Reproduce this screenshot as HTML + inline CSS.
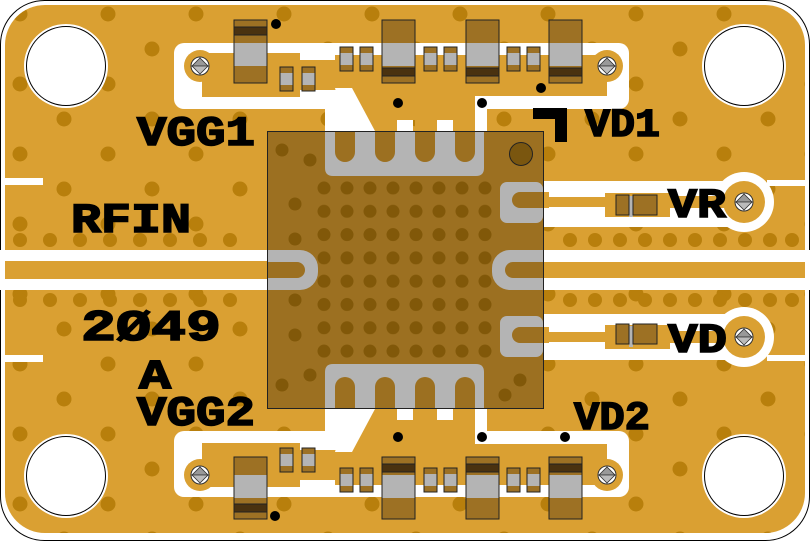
<!DOCTYPE html>
<html><head><meta charset="utf-8"><style>
html,body{margin:0;padding:0;background:#fff;}
svg{display:block;}
text{font-family:"Liberation Mono","DejaVu Sans Mono",monospace;font-weight:bold;fill:#000;stroke:#000;stroke-width:1.6px;}
</style></head><body>
<svg width="810" height="542" viewBox="0 0 810 542" xmlns="http://www.w3.org/2000/svg">
<defs>
<pattern id="vias" x="0" y="0" width="88" height="70" patternUnits="userSpaceOnUse">
<circle cx="20" cy="14" r="7.5" fill="#B87F0C"/>
<circle cx="64" cy="49" r="7.5" fill="#B87F0C"/>
</pattern>
<pattern id="cvias" x="312.5" y="176.5" width="23" height="23.3" patternUnits="userSpaceOnUse">
<circle cx="11.5" cy="11.5" r="6.5" fill="#815809"/>
</pattern>
<g id="screw">
<circle r="9" fill="#fff" stroke="#333" stroke-width="1"/>
<path d="M-8,0 L8,0 L0,-8 Z" fill="#999" stroke="#333" stroke-width="0.8"/>
<path d="M-8,0 L8,0 L0,8 Z" fill="#bbb" stroke="#333" stroke-width="0.8" transform="scale(-1,1)"/>
</g>
</defs>
<rect x="0.5" y="0.5" width="809" height="540" rx="44" fill="#fff" stroke="#000" stroke-width="1"/>
<rect x="5" y="5" width="800" height="528" rx="40" fill="#DAA032"/>
<rect x="5" y="5" width="800" height="528" rx="40" fill="url(#vias)"/>
<g fill="#B87F0C">
<circle cx="20" cy="240" r="7"/><circle cx="50" cy="240" r="7"/><circle cx="80" cy="240" r="7"/><circle cx="110" cy="240" r="7"/><circle cx="140" cy="240" r="7"/><circle cx="170" cy="240" r="7"/><circle cx="200" cy="240" r="7"/><circle cx="230" cy="240" r="7"/>
<circle cx="20" cy="300" r="7"/><circle cx="50" cy="300" r="7"/><circle cx="80" cy="300" r="7"/><circle cx="110" cy="300" r="7"/><circle cx="140" cy="300" r="7"/><circle cx="170" cy="300" r="7"/><circle cx="200" cy="300" r="7"/><circle cx="230" cy="300" r="7"/>
<circle cx="570" cy="240" r="7"/><circle cx="595" cy="240" r="7"/><circle cx="620" cy="240" r="7"/><circle cx="645" cy="240" r="7"/><circle cx="670" cy="240" r="7"/><circle cx="695" cy="240" r="7"/><circle cx="720" cy="240" r="7"/><circle cx="745" cy="240" r="7"/><circle cx="770" cy="240" r="7"/><circle cx="792" cy="240" r="7"/>
<circle cx="570" cy="300" r="7"/><circle cx="595" cy="300" r="7"/><circle cx="620" cy="300" r="7"/><circle cx="645" cy="300" r="7"/><circle cx="670" cy="300" r="7"/><circle cx="695" cy="300" r="7"/><circle cx="720" cy="300" r="7"/><circle cx="745" cy="300" r="7"/><circle cx="770" cy="300" r="7"/><circle cx="792" cy="300" r="7"/>
</g>

<g fill="#fff" stroke="#000" stroke-width="1">
<circle cx="66" cy="66" r="42" stroke="none"/><circle cx="66" cy="66" r="39.5"/>
<circle cx="744" cy="66" r="42" stroke="none"/><circle cx="744" cy="66" r="39.5"/>
<circle cx="66" cy="476" r="42" stroke="none"/><circle cx="66" cy="476" r="39.5"/>
<circle cx="744" cy="476" r="42" stroke="none"/><circle cx="744" cy="476" r="39.5"/>
</g>

<g fill="#fff">
<rect x="0" y="250" width="270" height="40"/>
<rect x="540" y="250" width="270" height="40"/>
<rect x="5" y="178" width="38" height="7"/>
<rect x="5" y="355" width="38" height="7"/>
<rect x="767" y="180" width="38" height="6"/>
<rect x="767" y="355" width="38" height="6"/>
<rect x="540" y="181" width="215" height="46"/>
<circle cx="744" cy="202" r="30"/>
<rect x="540" y="314" width="215" height="46"/>
<circle cx="744" cy="337" r="30"/>
<rect x="174" y="43" width="455" height="66" rx="10"/>
<rect x="325" y="100" width="23" height="31"/>
<rect x="474" y="95" width="13" height="36"/>
<rect x="174" y="431" width="455" height="66" rx="10"/>
<rect x="325" y="409" width="23" height="31"/>
<rect x="474" y="409" width="13" height="36"/>
</g>

<g fill="#DAA032">
<rect x="5" y="261" width="265" height="18"/>
<rect x="540" y="262" width="265" height="16"/>
<rect x="540" y="197" width="70" height="10"/>
<rect x="605" y="193" width="65" height="24"/>
<rect x="665" y="196" width="75" height="12"/>
<circle cx="744" cy="202" r="21"/>
<rect x="540" y="332" width="70" height="10"/>
<rect x="605" y="325" width="65" height="24"/>
<rect x="665" y="331" width="75" height="12"/>
<circle cx="744" cy="337" r="21"/>
<path d="M202,53 L300,53 L300,60 L335,60 L335,55 L607,55 L607,96 L340,96 L340,90 L300,90 L300,97 L202,97 Z"/>
<rect x="352" y="96" width="123" height="24"/>
<circle cx="200" cy="66" r="16"/>
<circle cx="607" cy="66" r="16"/>
<path d="M202,487 L300,487 L300,480 L335,480 L335,485 L607,485 L607,444 L340,444 L340,450 L300,450 L300,443 L202,443 Z"/>
<rect x="352" y="420" width="123" height="24"/>
<circle cx="200" cy="475" r="16"/>
<circle cx="607" cy="475" r="16"/>
</g>
<g fill="#fff">
<path d="M335,88 L352,88 L375,131 L347,131 Z"/>
<path d="M335,452 L352,452 L375,409 L347,409 Z"/>
</g>
<g fill="#DAA032">
<rect x="375" y="110" width="20" height="21"/>
<rect x="415" y="110" width="20" height="21"/><rect x="455" y="110" width="20" height="21"/>
<rect x="375" y="409" width="20" height="21"/>
<rect x="415" y="409" width="20" height="21"/><rect x="455" y="409" width="20" height="21"/>
</g>
<g fill="#fff">
<rect x="397" y="120" width="16" height="11"/><rect x="437" y="120" width="16" height="11"/>
<rect x="397" y="409" width="16" height="11"/><rect x="437" y="409" width="16" height="11"/>
</g>

<rect x="267" y="131" width="276" height="277" fill="#9C7021"/>
<rect x="313" y="177" width="184" height="186" fill="url(#cvias)"/>
<g fill="#815809">
<circle cx="295" cy="204" r="6.5"/><circle cx="295" cy="239" r="6.5"/>
<circle cx="295" cy="300" r="6.5"/><circle cx="295" cy="335" r="6.5"/>
<circle cx="282" cy="150" r="6.5"/><circle cx="310" cy="160" r="6.5"/>
<circle cx="282" cy="385" r="6.5"/><circle cx="310" cy="375" r="6.5"/>
<circle cx="520" cy="380" r="6.5"/><circle cx="505" cy="395" r="6.5"/>
</g>
<g fill="#B4B4B4">
<path d="M325,131 L484,131 L484,168 Q484,176 476,176 L333,176 Q325,176 325,168 Z"/>
<path d="M325,408 L484,408 L484,372 Q484,364 476,364 L333,364 Q325,364 325,372 Z"/>
<rect x="268" y="250" width="50" height="40" rx="18"/>
<rect x="268" y="250" width="20" height="40"/>
<rect x="500" y="182" width="43" height="41" rx="7"/>
<rect x="492" y="250" width="51" height="40" rx="18"/>
<rect x="520" y="250" width="23" height="40"/>
<rect x="500" y="316" width="43" height="41" rx="7"/>
</g>
<g fill="#9C7021">
<path d="M335,131 h20 v21 a10,10 0 0 1 -20,0 Z"/>
<path d="M375,131 h20 v21 a10,10 0 0 1 -20,0 Z"/>
<path d="M415,131 h20 v21 a10,10 0 0 1 -20,0 Z"/>
<path d="M455,131 h20 v21 a10,10 0 0 1 -20,0 Z"/>
<path d="M335,408 h20 v-21 a10,10 0 0 0 -20,0 Z"/>
<path d="M375,408 h20 v-21 a10,10 0 0 0 -20,0 Z"/>
<path d="M415,408 h20 v-21 a10,10 0 0 0 -20,0 Z"/>
<path d="M455,408 h20 v-21 a10,10 0 0 0 -20,0 Z"/>
<rect x="268" y="262" width="37" height="16" rx="8"/><rect x="268" y="262" width="20" height="16"/>
<rect x="505" y="262" width="38" height="16" rx="8"/><rect x="525" y="262" width="18" height="16"/>
<rect x="512" y="192" width="31" height="16" rx="8"/><rect x="525" y="192" width="18" height="16"/>
<rect x="512" y="327" width="31" height="16" rx="8"/><rect x="525" y="327" width="18" height="16"/>
</g>
<g fill="#DAA032">
<rect x="543" y="192" width="6" height="16"/><rect x="543" y="262" width="6" height="16"/><rect x="543" y="327" width="6" height="16"/>
</g>
<rect x="267.5" y="131.5" width="276" height="277" fill="none" stroke="#222" stroke-width="1"/>
<circle cx="521" cy="154" r="11.5" fill="#7A560F" stroke="#222" stroke-width="1"/>

<g stroke="#222" stroke-width="1">
<g fill="#9D7124">
<rect x="234" y="20" width="33" height="63"/>
<rect x="382" y="20" width="33" height="63"/>
<rect x="466" y="20" width="33" height="63"/>
<rect x="549" y="20" width="33" height="63"/>
<rect x="234" y="457" width="33" height="62"/>
<rect x="382" y="457" width="33" height="62"/>
<rect x="466" y="457" width="33" height="62"/>
<rect x="549" y="457" width="33" height="62"/>
<rect x="280" y="67" width="13" height="24"/><rect x="302" y="67" width="13" height="24"/>
<rect x="340" y="47" width="13" height="24"/><rect x="360" y="47" width="13" height="24"/>
<rect x="424" y="47" width="13" height="24"/><rect x="444" y="47" width="13" height="24"/>
<rect x="507" y="47" width="13" height="24"/><rect x="527" y="47" width="13" height="24"/>
<rect x="280" y="448" width="13" height="24"/><rect x="302" y="448" width="13" height="24"/>
<rect x="340" y="468" width="13" height="24"/><rect x="360" y="468" width="13" height="24"/>
<rect x="424" y="468" width="13" height="24"/><rect x="444" y="468" width="13" height="24"/>
<rect x="507" y="468" width="13" height="24"/><rect x="527" y="468" width="13" height="24"/>
</g>
</g>
<g fill="#B4B4B4">
<rect x="234.5" y="43" width="32" height="23"/>
<rect x="382.5" y="43" width="32" height="23"/><rect x="466.5" y="43" width="32" height="23"/><rect x="549.5" y="43" width="32" height="23"/>
<rect x="234.5" y="475" width="32" height="23"/>
<rect x="382.5" y="475" width="32" height="23"/><rect x="466.5" y="475" width="32" height="23"/><rect x="549.5" y="475" width="32" height="23"/>
<rect x="280.5" y="73" width="12" height="12"/><rect x="302.5" y="73" width="12" height="12"/>
<rect x="340.5" y="53" width="12" height="12"/><rect x="360.5" y="53" width="12" height="12"/>
<rect x="424.5" y="53" width="12" height="12"/><rect x="444.5" y="53" width="12" height="12"/>
<rect x="507.5" y="53" width="12" height="12"/><rect x="527.5" y="53" width="12" height="12"/>
<rect x="280.5" y="454" width="12" height="12"/><rect x="302.5" y="454" width="12" height="12"/>
<rect x="340.5" y="474" width="12" height="12"/><rect x="360.5" y="474" width="12" height="12"/>
<rect x="424.5" y="474" width="12" height="12"/><rect x="444.5" y="474" width="12" height="12"/>
<rect x="507.5" y="474" width="12" height="12"/><rect x="527.5" y="474" width="12" height="12"/>
<rect x="629" y="196" width="4" height="21"/><rect x="629" y="326" width="4" height="21"/>
</g>
<g fill="#4A3210" stroke="#222" stroke-width="1">
<rect x="234" y="27" width="33" height="8"/>
<rect x="382" y="68" width="33" height="8"/><rect x="466" y="68" width="33" height="8"/><rect x="549" y="68" width="33" height="8"/>
<rect x="234" y="504" width="33" height="8"/>
<rect x="382" y="464" width="33" height="8"/><rect x="466" y="464" width="33" height="8"/><rect x="549" y="464" width="33" height="8"/>
</g>
<g fill="#9D7124" stroke="#222" stroke-width="1">
<rect x="616" y="195" width="13" height="20"/><rect x="633" y="195" width="24" height="20"/>
<rect x="616" y="324" width="13" height="20"/><rect x="633" y="324" width="24" height="20"/>
</g>

<use href="#screw" x="200" y="66"/><use href="#screw" x="607" y="66"/>
<use href="#screw" x="200" y="475"/><use href="#screw" x="607" y="475"/>
<use href="#screw" x="744" y="202"/><use href="#screw" x="744" y="337"/>

<g fill="#000">
<circle cx="276" cy="24" r="5"/><circle cx="398" cy="103" r="5"/><circle cx="482" cy="103" r="5"/><circle cx="541" cy="88" r="5"/>
<circle cx="398" cy="437" r="5"/><circle cx="482" cy="437" r="5"/><circle cx="565" cy="437" r="5"/><circle cx="275" cy="516" r="5"/>
<path d="M533,108 L567,108 L567,142 L555,142 L555,119 L533,119 Z"/>
</g>

<text x="137" y="145" font-size="42" textLength="118" lengthAdjust="spacingAndGlyphs">VGG1</text>
<text x="585" y="136" font-size="40" textLength="75" lengthAdjust="spacingAndGlyphs">VD1</text>
<text x="71" y="232" font-size="42" textLength="120" lengthAdjust="spacingAndGlyphs">RFIN</text>
<text x="668" y="217" font-size="42" textLength="58" lengthAdjust="spacingAndGlyphs">VR</text>
<text x="668" y="352" font-size="42" textLength="59" lengthAdjust="spacingAndGlyphs">VD</text>
<text x="81" y="340" font-size="44" textLength="140" lengthAdjust="spacingAndGlyphs">2Ø49</text>
<text x="139" y="388" font-size="42" textLength="32" lengthAdjust="spacingAndGlyphs">A</text>
<text x="137" y="425" font-size="42" textLength="118" lengthAdjust="spacingAndGlyphs">VGG2</text>
<text x="574" y="429" font-size="40" textLength="76" lengthAdjust="spacingAndGlyphs">VD2</text>
</svg>
</body></html>
